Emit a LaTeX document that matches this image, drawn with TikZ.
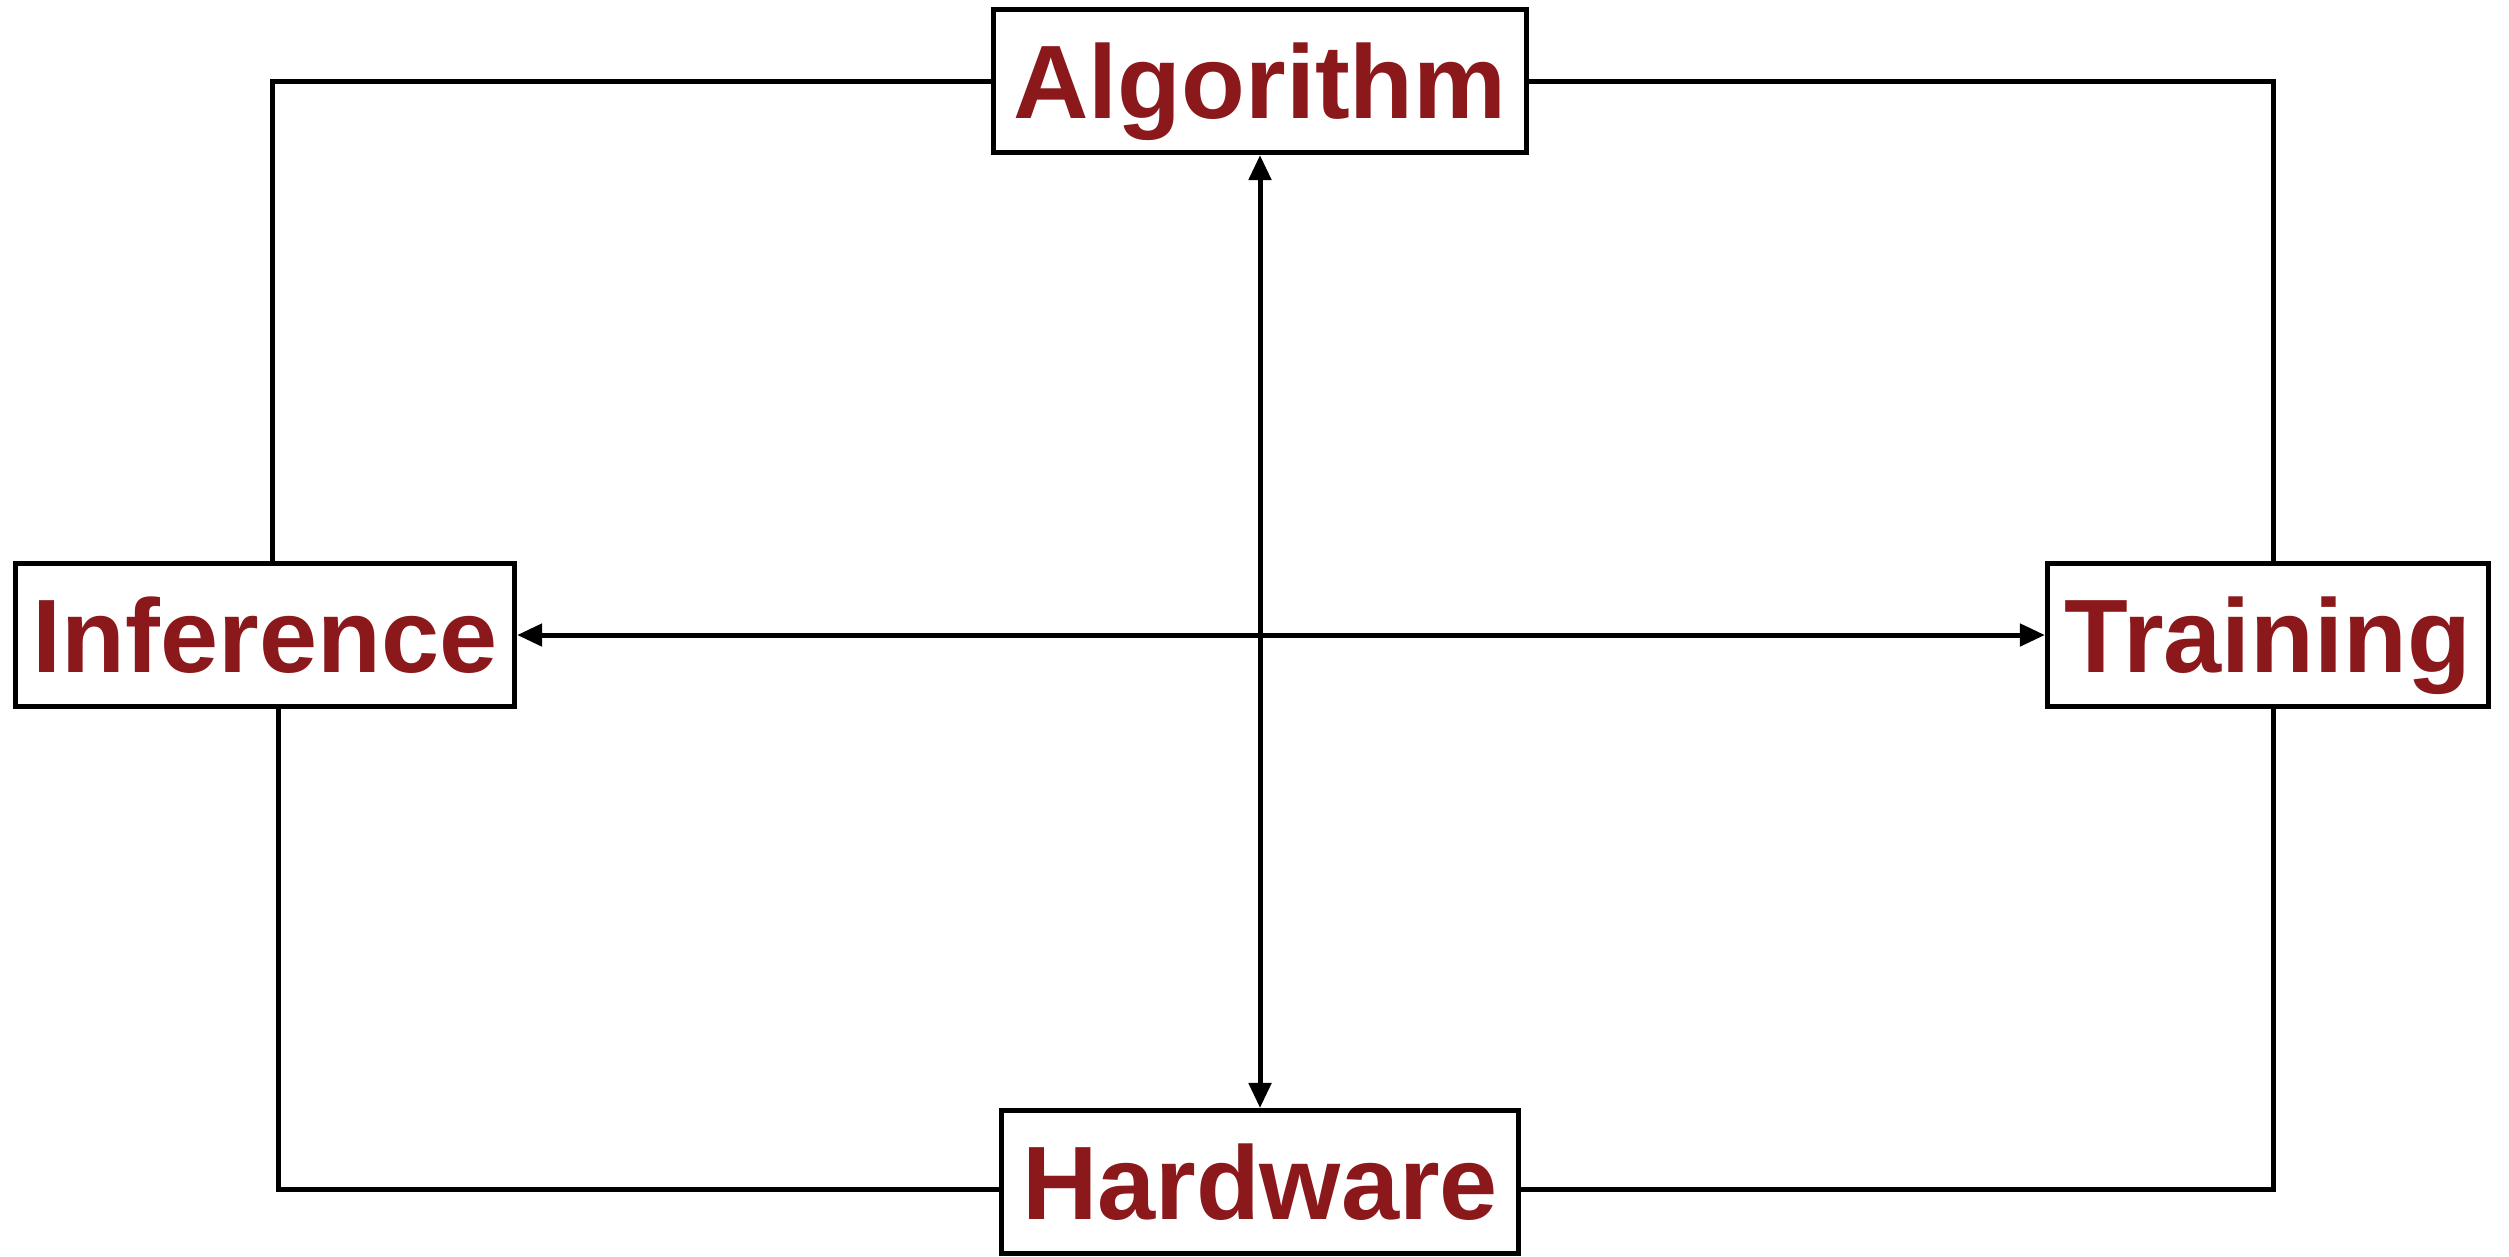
\documentclass[tikz,border=0pt]{standalone}
\usepackage{fontspec}
\setmainfont{Liberation Sans}
\usetikzlibrary{arrows.meta}
\definecolor{labelred}{RGB}{139,24,26}
\begin{document}
\begin{tikzpicture}[x=0.01cm,y=-0.01cm,
  stage/.style={draw, line width=1.42pt, fill=white, inner sep=0pt, text=labelred,
    font=\fontsize{29.7pt}{32pt}\selectfont\bfseries,
    text height=21.3pt, text depth=0pt, minimum height=1.43cm},
  link/.style={line width=1.42pt},
  flow/.style={line width=1.42pt,
    {Triangle[length=0.25cm,width=0.22cm]}-{Triangle[length=0.25cm,width=0.22cm]}}]
\useasboundingbox (0,0) rectangle (2509,1256);

% the four stages
\node[stage, minimum width=5.32cm] (alg) at (1260,81)   {Algorithm};
\node[stage, minimum width=4.99cm] (inf) at (265,635)   {Inference};
\node[stage, minimum width=4.41cm] (trn) at (2268,635)  {Training};
\node[stage, minimum width=5.16cm] (hw)  at (1260,1182) {Hardware};

% outer ring joining neighbouring stages
\draw[link] (alg.west) -| ([xshift=0.07cm]inf.north);
\draw[link] (alg.east) -| ([xshift=0.05cm]trn.north);
\draw[link] ([xshift=0.13cm]inf.south) |- ([yshift=-0.07cm]hw.west);
\draw[link] ([yshift=-0.07cm]hw.east) -| ([xshift=0.05cm]trn.south);

% the two crossing double arrows
\draw[flow] (inf.east) -- (trn.west);
\draw[flow] (alg.south) -- (hw.north);
\end{tikzpicture}
\end{document}
